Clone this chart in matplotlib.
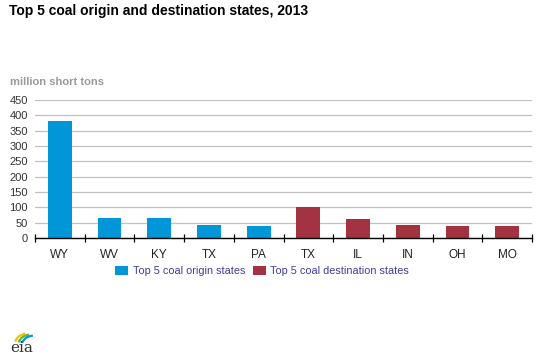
import numpy as np
from matplotlib import pyplot as plt
from matplotlib.patches import Arc

states = ['WY', 'WV', 'KY', 'TX', 'PA', 'TX', 'IL', 'IN', 'OH', 'MO']
origin = [381, 65, 65, 42, 39]
destination = [100, 61, 43, 40, 40]
yticks = [0, 50, 100, 150, 200, 250, 300, 350, 400, 450]

blue = '#0096d7'
red = '#a33340'

plt.rcParams['font.family'] = ['Liberation Sans', 'DejaVu Sans']

fig = plt.figure(figsize=(5.4, 3.6), dpi=100)
ax = fig.add_axes([35 / 540, 1 - 238 / 360, 497 / 540, 138 / 360])

x = np.arange(len(states))
ax.bar(x[:5], origin, width=0.48, color=blue, label='Top 5 coal origin states', zorder=3)
ax.bar(x[5:], destination, width=0.48, color=red, label='Top 5 coal destination states', zorder=3)

ax.set_xlim(-0.5, len(states) - 0.5)
ax.set_ylim(0, 450)
ax.set_yticks(yticks)
ax.set_yticklabels([str(v) for v in yticks], fontsize=8, color='#333333')
ax.set_xticks(x)
ax.set_xticklabels(states, fontsize=8.5, color='#222222')
ax.set_xticks(np.arange(len(states) + 1) - 0.5, minor=True)
ax.tick_params(axis='x', which='major', length=0, pad=8)
ax.tick_params(axis='x', which='minor', length=6, direction='inout', color='black', width=0.9)
ax.tick_params(axis='y', length=0, pad=5)
ax.yaxis.grid(True, color='#c0c0c0', linewidth=0.9, zorder=0)

for s in ['top', 'right', 'left']:
    ax.spines[s].set_visible(False)
ax.spines['bottom'].set_color('black')
ax.spines['bottom'].set_linewidth(1.0)
ax.spines['bottom'].set_zorder(4)

fig.text(9 / 540, 1 - 11 / 360, 'Top 5 coal origin and destination states, 2013',
         fontsize=10, fontweight='bold', color='black', va='center', ha='left')
fig.text(10 / 540, 1 - 82 / 360, 'million short tons', fontsize=8, fontweight='bold',
         color='#999999', va='center', ha='left')

leg = fig.legend(loc='center', bbox_to_anchor=(0.485, 1 - 271 / 360), ncol=2, frameon=False,
                 fontsize=7.8, handlelength=1.2, handleheight=0.9, handletextpad=0.4,
                 columnspacing=0.7, borderpad=0)
for t in leg.get_texts():
    t.set_color('#3d3d9e')

# little eia mark
fig.text(10 / 540, 1 - 348 / 360, 'eia', fontsize=11, family='DejaVu Serif',
         color='#333333', va='center', ha='left')
lax = fig.add_axes([12 / 540, 1 - 343 / 360, 22 / 540, 12 / 360])
lax.set_xlim(0, 1)
lax.set_ylim(0, 1)
lax.axis('off')
lax.add_patch(Arc((0.75, 0.0), 1.2, 1.6, theta1=100, theta2=170, color='#f5c400', lw=1.6))
lax.add_patch(Arc((0.85, -0.1), 1.1, 1.6, theta1=95, theta2=165, color='#6cb33f', lw=1.6))
lax.add_patch(Arc((0.95, -0.2), 1.0, 1.6, theta1=90, theta2=160, color='#0096d7', lw=1.6))

fig.savefig('out.png', dpi=100)
